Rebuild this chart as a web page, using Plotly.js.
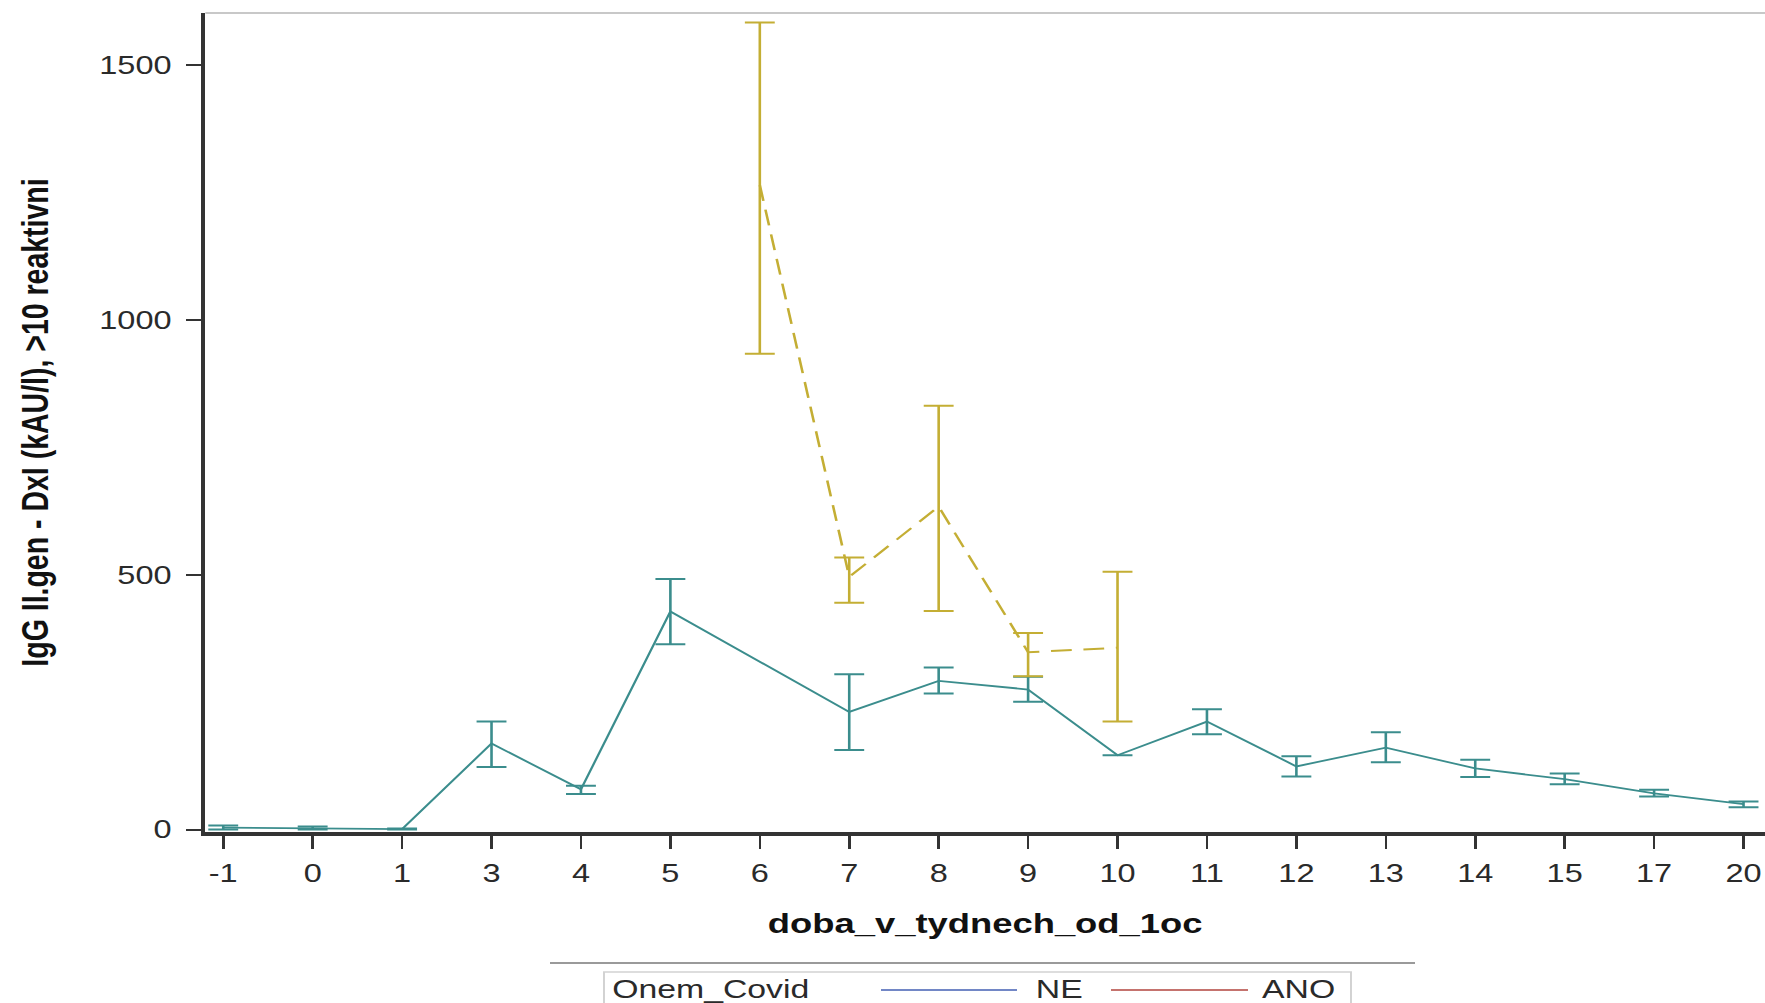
<!DOCTYPE html>
<html>
<head>
<meta charset="utf-8">
<script src="https://cdn.plot.ly/plotly-3.0.1.min.js"></script>
<style>
  html, body { margin: 0; padding: 0; background: #fff; overflow: hidden; width: 1765px; height: 1003px; }
  #chart { width: 1358px; height: 1003px; transform: scaleX(1.2997); transform-origin: 0 0; }
</style>
</head>
<body>
<div id="chart"></div>
<script>
// ---- data ----
const categories = ['-1','0','1','3','4','5','6','7','8','9','10','11','12','13','14','15','17','20'];

const neWeeks = ['-1','0','1','3','4','5','7','8','9','10','11','12','13','14','15','17','20'];
const neMean  = [4, 3, 1, 169, 79, 428, 231, 292, 275, 146, 212, 124, 161, 120, 99, 71, 50];
const neUpper = [8, 6, 2, 212, 86, 492, 305, 318, 300, null, 236, 144, 191, 137, 110, 78, 55];
const neLower = [0, 0, 0, 123, 70, 364, 156, 267, 251, null, 187, 104, 132, 103, 89, 65, 44];

const anoWeeks = ['6','7','8','9','10'];
const anoMean  = [1265, 496, 634, 348, 357];
const anoUpper = [1584, 534, 832, 386, 506];
const anoLower = [934, 445, 429, 301, 212];

const yTicks = [0, 500, 1000, 1500];
const xTitle = 'doba_v_tydnech_od_1oc';
const yTitle = 'IgG II.gen - DxI (kAU/l), >10 reaktivni';
const legendTitle = 'Onem_Covid';
const legendNames = ['NE', 'ANO'];

// ---- styling ----
const S = 1765 / 1358;       // horizontal stretch of the reference
const W0 = 1358, H = 1003, L = 158, T = 13, B = 171;
const plotW = W0 - L, plotH = H - T - B;
const teal = '#3b8d8d', gold = '#c4ae34';
const legBlue = '#7287c6', legRed = '#c5736e';
const txt = '#2a2a2a';
const fam = 'Liberation Sans, Arial, sans-serif';

function plus(m, u)  { return m.map((v, i) => u[i] == null ? 0 : u[i] - v); }
function minus(m, l) { return m.map((v, i) => l[i] == null ? 0 : v - l[i]); }

const px = xf => (xf / S - L) / plotW;       // full-image px -> paper x
const py = yf => (H - B - yf) / plotH;       // full-image px -> paper y

const traces = [
  {
    type: 'scatter', mode: 'lines', name: legendNames[0],
    x: neWeeks, y: neMean,
    line: { color: teal, width: 1.8 },
    error_y: { type: 'data', symmetric: false, array: plus(neMean, neUpper), arrayminus: minus(neMean, neLower),
               color: teal, thickness: 2, width: 11.5 },
    showlegend: false
  },
  {
    type: 'scatter', mode: 'lines', name: legendNames[1],
    x: anoWeeks, y: anoMean,
    line: { color: gold, width: 2, dash: '16px,9px' },
    error_y: { type: 'data', symmetric: false, array: plus(anoMean, anoUpper), arrayminus: minus(anoMean, anoLower),
               color: gold, thickness: 2, width: 11.5 },
    showlegend: false
  }
];

const layout = {
  width: W0, height: H,
  margin: { l: L, r: 0, t: T, b: B, pad: 0 },
  paper_bgcolor: '#fff', plot_bgcolor: '#fff',
  showlegend: false,
  font: { family: fam, color: txt },
  xaxis: {
    type: 'category', categoryorder: 'array', categoryarray: categories,
    tickvals: categories, ticktext: categories,
    range: [-0.2, 17.24],
    showgrid: false, zeroline: false,
    showline: true, linecolor: '#333', linewidth: 3.5,
    ticks: 'outside', ticklen: 13, tickwidth: 2, tickcolor: '#333',
    tickfont: { family: fam, size: 25, color: txt },
    ticklabelstandoff: 4,
    automargin: false,
    title: { text: xTitle, font: { family: fam, size: 28, weight: 'bold', color: '#111' }, standoff: 28 }
  },
  yaxis: {
    range: [-4.7, 1602.7],
    tickvals: yTicks, ticktext: yTicks.map(String),
    showgrid: false, zeroline: false,
    showline: true, linecolor: '#333', linewidth: 3,
    ticks: 'outside', ticklen: 12, tickwidth: 2, tickcolor: '#333',
    tickfont: { family: fam, size: 25, color: txt },
    ticklabelstandoff: 6,
    automargin: false,
    title: { text: yTitle, font: { family: fam, size: 28.5, weight: 'bold', color: '#111' }, standoff: 31 }
  },
  shapes: [
    // light frame line along the top of the plot area
    { type: 'line', xref: 'paper', yref: 'paper', x0: 0, x1: 1.01, y0: 1, y1: 1, line: { color: '#c8c8c8', width: 2 } },
    // rule above the legend
    { type: 'line', xref: 'paper', yref: 'paper', x0: px(550), x1: px(1415), y0: py(963), y1: py(963), line: { color: '#9a9a9a', width: 2 } },
    // legend box
    { type: 'rect', xref: 'paper', yref: 'paper', x0: px(604), x1: px(1351), y0: py(972), y1: py(1012),
      line: { color: '#d2d2d2', width: 1.5 }, fillcolor: '#fff' },
    // legend line samples
    { type: 'line', xref: 'paper', yref: 'paper', x0: px(881), x1: px(1017), y0: py(990), y1: py(990), line: { color: legBlue, width: 2 } },
    { type: 'line', xref: 'paper', yref: 'paper', x0: px(1111), x1: px(1248), y0: py(990), y1: py(990), line: { color: legRed, width: 2 } }
  ],
  annotations: [
    { xref: 'paper', yref: 'paper', x: px(609), y: py(989), xanchor: 'left', yanchor: 'middle', showarrow: false,
      text: legendTitle, font: { family: fam, size: 26, color: txt } },
    { xref: 'paper', yref: 'paper', x: px(1033), y: py(989), xanchor: 'left', yanchor: 'middle', showarrow: false,
      text: legendNames[0], font: { family: fam, size: 26, color: txt } },
    { xref: 'paper', yref: 'paper', x: px(1260), y: py(989), xanchor: 'left', yanchor: 'middle', showarrow: false,
      text: legendNames[1], font: { family: fam, size: 26, color: txt } }
  ]
};

Plotly.newPlot('chart', traces, layout, { displayModeBar: false, staticPlot: true });
</script>
</body>
</html>
